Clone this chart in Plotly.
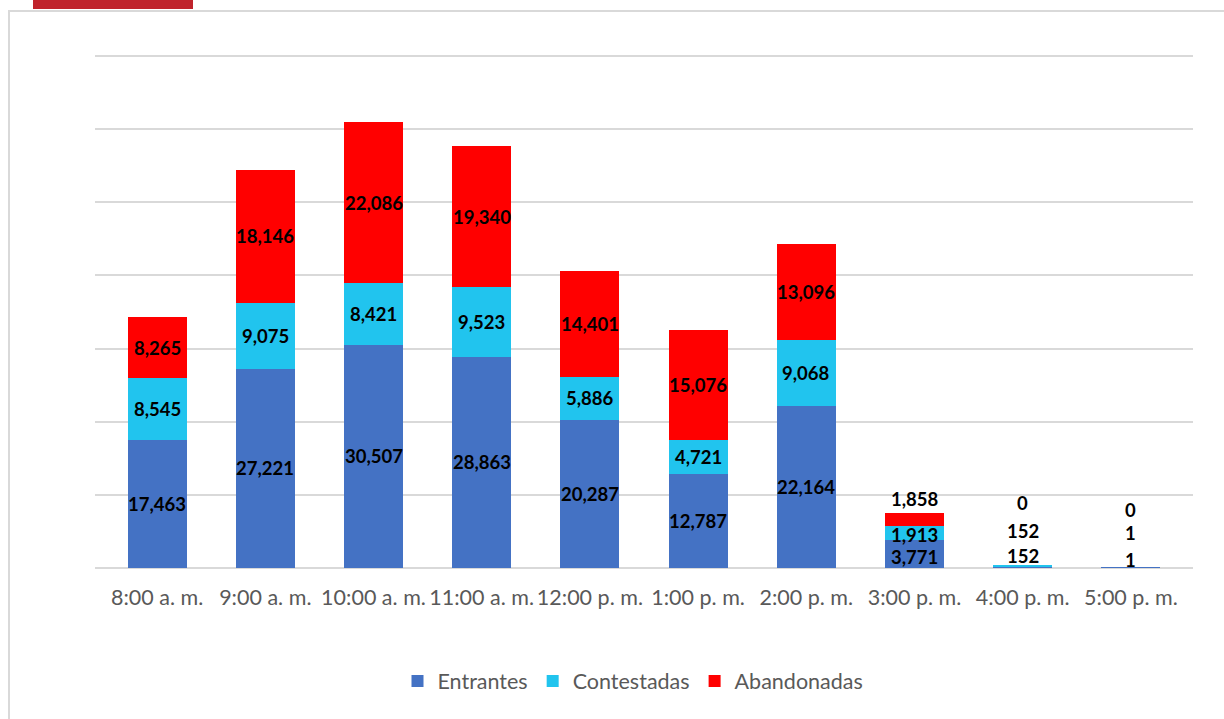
import plotly.graph_objects as go

categories = ["8:00 a. m.", "9:00 a. m.", "10:00 a. m.", "11:00 a. m.", "12:00 p. m.",
              "1:00 p. m.", "2:00 p. m.", "3:00 p. m.", "4:00 p. m.", "5:00 p. m."]
entrantes = [17463, 27221, 30507, 28863, 20287, 12787, 22164, 3771, 152, 1]
contestadas = [8545, 9075, 8421, 9523, 5886, 4721, 9068, 1913, 152, 1]
abandonadas = [8265, 18146, 22086, 19340, 14401, 15076, 13096, 1858, 0, 0]
grid_values = [0, 10000, 20000, 30000, 40000, 50000, 60000, 70000]

series = [("Entrantes", entrantes, "#4472C4"),
          ("Contestadas", contestadas, "#21C4EE"),
          ("Abandonadas", abandonadas, "#FF0000")]

# pixel offsets for labels of tiny segments (styling only)
label_shift = {
    "Entrantes":   [0, 0, 0, 0, 0, 0, 0, -3, 11, 8],
    "Contestadas": [0, 0, 0, 0, 0, 0, 0, -2, 35, 35],
    "Abandonadas": [0, 0, 0, 0, 0, 0, 0, 21, 63, 58],
}

fig = go.Figure()
annotations = []
base = [0] * len(categories)
for name, vals, color in series:
    fig.add_trace(go.Bar(x=categories, y=vals, name=name, marker_color=color,
                         marker_line_width=0, hoverinfo="x+y+name"))
    for i, (c, v) in enumerate(zip(categories, vals)):
        annotations.append(dict(x=c, y=base[i] + v / 2, text=f"{v:,}", showarrow=False,
                                xref="x", yref="y", yshift=label_shift[name][i],
                                font=dict(family="Lato", size=18.5, color="#000000", weight="bold")))
        base[i] += v

W, H = 1224, 719
L, R, T, B = 95, 1193, 49, 568
YMAX = 70000 * (B - T) / 512.0
def px(x):
    return (x - L) / (R - L)
def py(y):
    return (B - y) / (B - T)

shapes = [
    dict(type="path", xref="paper", yref="paper",
         path=f"M {px(9)},{py(725)} L {px(9)},{py(11)} L {px(1230)},{py(11)}",
         line=dict(color="#D9D9D9", width=2)),
    dict(type="rect", xref="paper", yref="paper", x0=px(33), x1=px(193), y0=py(9), y1=py(0),
         fillcolor="#C0232C", line_width=0),
]

fig.update_layout(
    barmode="stack",
    bargap=0.455,
    width=W, height=H,
    margin=dict(l=L, r=W - R, t=T, b=H - B, pad=0),
    plot_bgcolor="white", paper_bgcolor="white",
    font=dict(family="Lato", color="#595959"),
    xaxis=dict(range=[-0.574, 9.574], showgrid=False, showline=False, ticks="",
               tickfont=dict(size=21.5, color="#595959"), ticklabelstandoff=14,
               fixedrange=True),
    yaxis=dict(range=[0, YMAX], tickvals=grid_values,
               showgrid=True, gridcolor="#D9D9D9", gridwidth=1.5,
               showticklabels=False, zeroline=True, zerolinecolor="#D9D9D9", zerolinewidth=1.5,
               fixedrange=True),
    legend=dict(orientation="h", x=px(633), xanchor="center", y=py(681), yanchor="middle",
                font=dict(size=21.5, color="#595959"), itemwidth=30, traceorder="normal"),
    annotations=annotations,
    shapes=shapes,
    showlegend=True,
)

fig.write_html("out.html", config={"displayModeBar": False},
               post_script="document.body.style.margin='0';document.body.style.overflow='hidden';")
